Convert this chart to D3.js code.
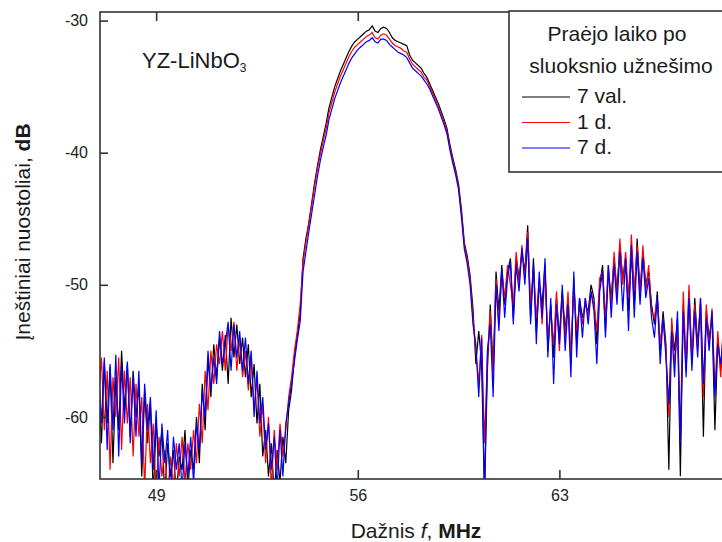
<!DOCTYPE html>
<html>
<head>
<meta charset="utf-8">
<script src="https://cdn.jsdelivr.net/npm/d3@7"></script>
<style>
  body { margin: 0; background: #fff; }
  svg { font-family: "Liberation Sans", Arial, sans-serif; }
</style>
</head>
<body>
<div id="chart"></div>
<script>
// frequency grid, MHz (47.0 ... 68.7, 0.1 MHz step)
let freqStart = 47.0
let freqStep = 0.1

// 7 val. (black)
let series7val = [
  -57.5, -62.0, -55.8, -60.5, -56.2, -63.5, -57.0, -61.0, -55.0, -59.5, // 47
  -56.0, -61.5, -56.5, -60.0, -57.5, -64.5, -58.0, -62.0, -59.0, -66.0, // 48
  -60.5, -63.0, -61.0, -66.0, -62.0, -64.5, -62.5, -66.0, -63.0, -64.0, // 49
  -61.0, -65.5, -62.5, -64.0, -60.0, -63.5, -57.5, -61.0, -55.5, -58.5, // 50
  -54.5, -57.0, -54.0, -56.5, -53.8, -57.5, -52.5, -55.5, -53.0, -56.0, // 51
  -54.0, -57.0, -54.5, -58.5, -56.0, -60.5, -57.5, -63.0, -61.0, -64.5, // 52
  -62.0, -66.0, -62.5, -65.0, -61.5, -63.5, -59.5, -58.0, -55.5, -53.8, // 53
  -52.2, -48.0, -46.5, -45.3, -43.8, -42.3, -41.0, -39.8, -38.8, -37.8, // 54
  -36.6, -35.8, -35.0, -34.4, -33.8, -33.3, -32.8, -32.3, -31.9, -31.6, // 55
  -31.4, -31.2, -31.0, -30.8, -30.7, -30.4, -30.8, -30.9, -30.6, -30.5, // 56
  -30.6, -30.9, -31.3, -31.5, -31.6, -31.7, -31.8, -31.9, -32.6, -33.0, // 57
  -33.2, -33.4, -33.6, -34.0, -34.3, -34.8, -35.3, -35.8, -36.3, -36.9, // 58
  -37.5, -38.2, -39.4, -40.4, -41.3, -42.4, -44.3, -46.8, -47.8, -49.3, // 59
  -51.8, -56.0, -53.5, -56.0, -66.0, -56.5, -51.5, -56.5, -49.0, -52.0, // 60
  -48.5, -51.5, -49.0, -48.0, -52.5, -48.0, -49.5, -47.5, -49.0, -45.5, // 61
  -52.5, -48.0, -53.5, -50.0, -51.5, -48.5, -55.0, -51.5, -55.5, -51.0, // 62
  -54.0, -50.5, -53.5, -51.0, -56.0, -49.5, -54.5, -51.0, -52.5, -51.5, // 63
  -52.0, -50.0, -51.0, -54.5, -50.0, -48.5, -53.5, -49.0, -51.0, -48.0, // 64
  -50.5, -47.0, -49.5, -48.0, -52.0, -47.5, -51.5, -46.5, -50.5, -47.5, // 65
  -50.0, -49.0, -51.5, -53.0, -50.5, -55.0, -52.0, -54.5, -64.0, -53.0, // 66
  -55.0, -52.5, -64.5, -51.5, -56.5, -50.5, -56.0, -51.0, -54.5, -51.5, // 67
  -61.5, -52.0, -54.0, -52.5, -61.0, -54.0, -56.5, -55.0               // 68
]

// 1 d. (red)
let series1d = [
  -58.5, -55.5, -61.0, -56.5, -64.0, -57.0, -60.0, -55.5, -62.5, -56.5, // 47
  -60.5, -57.0, -63.0, -57.5, -61.5, -58.5, -65.5, -59.0, -63.5, -60.5, // 48
  -66.0, -61.5, -64.5, -62.5, -66.0, -63.0, -65.5, -62.0, -64.5, -61.5, // 49
  -65.0, -62.0, -64.0, -61.0, -63.5, -59.0, -62.0, -56.5, -59.5, -55.0, // 50
  -57.5, -54.5, -56.0, -53.5, -56.5, -53.0, -55.0, -52.8, -56.5, -54.0, // 51
  -57.0, -55.0, -58.0, -55.5, -59.5, -57.0, -61.5, -59.0, -63.5, -60.0, // 52
  -65.5, -61.0, -64.0, -60.5, -63.0, -61.0, -58.5, -57.0, -55.0, -53.5, // 53
  -51.5, -48.3, -46.8, -45.4, -44.0, -42.5, -41.2, -40.1, -39.1, -38.2, // 54
  -37.0, -36.2, -35.4, -34.8, -34.2, -33.7, -33.2, -32.7, -32.3, -32.0, // 55
  -31.8, -31.6, -31.4, -31.2, -31.1, -30.9, -31.3, -31.4, -31.1, -31.0, // 56
  -31.1, -31.4, -31.7, -31.9, -32.0, -32.1, -32.3, -32.4, -32.9, -33.3, // 57
  -33.5, -33.7, -33.9, -34.3, -34.5, -35.0, -35.5, -36.0, -36.5, -37.1, // 58
  -37.7, -38.4, -39.6, -40.6, -41.5, -42.6, -44.6, -47.0, -48.1, -49.6, // 59
  -52.5, -55.0, -57.5, -53.8, -62.0, -55.5, -52.0, -57.0, -49.5, -53.0, // 60
  -49.0, -51.0, -48.5, -50.0, -51.5, -47.5, -50.0, -47.0, -49.5, -46.0, // 61
  -51.5, -49.0, -52.5, -49.5, -53.0, -49.0, -54.0, -52.0, -54.5, -50.5, // 62
  -55.0, -51.0, -54.0, -50.5, -55.5, -50.0, -53.5, -51.5, -53.0, -51.0, // 63
  -52.5, -50.5, -51.5, -53.5, -49.5, -49.0, -52.5, -48.5, -51.5, -47.5, // 64
  -51.0, -46.5, -50.0, -47.5, -51.0, -46.2, -50.5, -47.0, -51.0, -47.0, // 65
  -50.5, -48.5, -52.0, -52.5, -51.0, -54.5, -52.5, -55.0, -60.0, -52.5, // 66
  -56.0, -53.0, -61.5, -50.5, -56.0, -50.0, -55.5, -51.5, -55.0, -51.0, // 67
  -58.5, -51.5, -54.5, -51.8, -58.0, -53.5, -57.0, -52.5               // 68
]

// 7 d. (blue)
let series7d = [
  -56.5, -60.5, -55.5, -62.5, -56.0, -61.0, -55.3, -63.0, -56.0, -60.5, // 47
  -55.8, -62.0, -57.0, -61.5, -56.5, -63.5, -57.5, -61.0, -58.5, -64.0, // 48
  -59.5, -65.5, -60.5, -63.5, -61.0, -66.0, -61.5, -64.0, -62.0, -65.5, // 49
  -62.0, -64.5, -61.5, -65.0, -60.5, -62.5, -58.0, -60.0, -55.0, -58.0, // 50
  -55.5, -57.5, -53.5, -56.0, -54.5, -52.8, -56.5, -53.0, -55.5, -53.5, // 51
  -56.5, -54.0, -57.5, -55.0, -60.0, -56.5, -60.5, -58.5, -62.5, -60.5, // 52
  -64.0, -61.5, -65.5, -61.0, -64.5, -60.5, -59.0, -57.5, -55.8, -54.2, // 53
  -52.8, -49.0, -47.5, -46.0, -44.6, -43.2, -41.8, -40.6, -39.6, -38.7, // 54
  -37.5, -36.7, -35.9, -35.3, -34.7, -34.2, -33.7, -33.2, -32.8, -32.5, // 55
  -32.2, -32.0, -31.8, -31.6, -31.5, -31.3, -31.6, -31.7, -31.4, -31.4, // 56
  -31.5, -31.8, -32.0, -32.2, -32.4, -32.5, -32.6, -32.8, -33.2, -33.6, // 57
  -33.8, -34.0, -34.2, -34.5, -34.8, -35.2, -35.7, -36.2, -36.7, -37.3, // 58
  -37.9, -38.6, -39.8, -40.8, -41.7, -42.8, -44.9, -47.3, -48.4, -50.0, // 59
  -53.0, -54.5, -58.5, -54.0, -66.0, -55.0, -53.0, -58.5, -50.0, -53.5, // 60
  -48.8, -52.5, -49.5, -48.2, -53.0, -48.5, -50.5, -47.2, -50.0, -46.5, // 61
  -53.0, -48.5, -54.5, -49.0, -52.5, -48.0, -55.5, -51.0, -57.5, -51.5, // 62
  -54.5, -50.0, -55.0, -51.5, -57.0, -49.0, -55.5, -51.0, -54.0, -51.0, // 63
  -53.0, -50.5, -52.0, -56.0, -50.5, -49.0, -54.0, -48.5, -52.5, -48.5, // 64
  -51.5, -47.5, -52.0, -48.0, -53.5, -47.0, -52.5, -47.5, -51.5, -48.0, // 65
  -51.0, -49.5, -52.5, -54.0, -51.0, -56.0, -52.5, -55.5, -59.0, -53.5, // 66
  -57.0, -52.0, -62.0, -52.0, -57.0, -51.0, -56.5, -52.0, -55.5, -51.0, // 67
  -57.5, -52.5, -55.0, -52.0, -58.5, -54.5, -56.0, -53.5               // 68
]

let seriesNames = ["7 val.", "1 d.", "7 d."]
let seriesColors = ["#000000", "#ff0000", "#0000ff"]
let xTicks = [49, 56, 63]
let yTicks = [-30, -40, -50, -60]

let width = 722, height = 542
let plot = {left: 100, top: 12, right: 725, bottom: 479}

let svg = d3.select("#chart").append("svg")
    .attr("width", width)
    .attr("height", height)

let x = d3.scaleLinear().domain([47.05, 68.75]).range([plot.left, plot.right])
let y = d3.scaleLinear().domain([-64.7, -29.35]).range([plot.bottom, plot.top])

svg.append("clipPath").attr("id", "plotClip")
    .append("rect")
    .attr("x", plot.left).attr("y", plot.top)
    .attr("width", plot.right - plot.left).attr("height", plot.bottom - plot.top)

// lines
let allSeries = [series7val, series1d, series7d]
let line = d3.line()
    .x((d, i) => x(freqStart + i * freqStep))
    .y(d => y(d))

let lines = svg.append("g").attr("clip-path", "url(#plotClip)")
allSeries.forEach(function (s, k) {
    lines.append("path")
        .datum(s)
        .attr("d", line)
        .attr("fill", "none")
        .attr("stroke", seriesColors[k])
        .attr("stroke-width", 1.2)
})

// frame
svg.append("rect")
    .attr("x", plot.left).attr("y", plot.top)
    .attr("width", plot.right - plot.left + 20).attr("height", plot.bottom - plot.top)
    .attr("fill", "none")
    .attr("stroke", "#333")
    .attr("stroke-width", 1.6)

// axes (plain hyphen for the minus, like the original)
let yAxis = d3.axisLeft(y).tickValues(yTicks).tickSize(-8).tickPadding(12)
    .tickFormat(d => String(d))
let xAxis = d3.axisBottom(x).tickValues(xTicks).tickSize(-9).tickPadding(11)
let xTop = d3.axisTop(x).tickValues(xTicks).tickSize(-9).tickFormat("")

function styleAxis(g) {
    g.select(".domain").remove()
    g.selectAll("line").attr("stroke", "#333").attr("stroke-width", 1.6)
    g.selectAll("text")
        .attr("font-family", "Liberation Sans, Arial, sans-serif")
        .attr("font-size", 16)
        .attr("fill", "#222")
}

svg.append("g").attr("transform", `translate(${plot.left},0)`).call(yAxis).call(styleAxis)
svg.append("g").attr("transform", `translate(0,${plot.bottom})`).call(xAxis).call(styleAxis)
svg.append("g").attr("transform", `translate(0,${plot.top})`).call(xTop).call(styleAxis)

// axis titles
let xTitle = svg.append("text")
    .attr("x", 416).attr("y", 538)
    .attr("text-anchor", "middle")
    .attr("font-size", 21)
    .attr("fill", "#1a1a1a")
xTitle.append("tspan").text("Dažnis ")
xTitle.append("tspan").attr("font-style", "italic").text("f")
xTitle.append("tspan").text(", ")
xTitle.append("tspan").attr("font-weight", "bold").text("MHz")

let yTitle = svg.append("text")
    .attr("transform", "translate(30,232) rotate(-90)")
    .attr("text-anchor", "middle")
    .attr("font-size", 21)
    .attr("fill", "#1a1a1a")
yTitle.append("tspan").text("Įneštiniai nuostoliai, ")
yTitle.append("tspan").attr("font-weight", "bold").text("dB")

// material label
let mat = svg.append("text")
    .attr("x", 142).attr("y", 68)
    .attr("font-size", 22)
    .attr("fill", "#1a1a1a")
mat.append("tspan").text("YZ-LiNbO")
mat.append("tspan").attr("font-size", 12).attr("dy", 4).text("3")

// legend
let legend = svg.append("g")
legend.append("rect")
    .attr("x", 509).attr("y", 11)
    .attr("width", 240).attr("height", 161)
    .attr("fill", "#fff")
    .attr("stroke", "#333")
    .attr("stroke-width", 1.6)

legend.append("text")
    .attr("x", 617).attr("y", 41)
    .attr("text-anchor", "middle")
    .attr("font-size", 21)
    .attr("fill", "#1a1a1a")
    .text("Praėjo laiko po")
legend.append("text")
    .attr("x", 621).attr("y", 73)
    .attr("text-anchor", "middle")
    .attr("font-size", 21)
    .attr("fill", "#1a1a1a")
    .text("sluoksnio užnešimo")

seriesNames.forEach(function (name, k) {
    let yy = 97 + k * 25.5
    legend.append("line")
        .attr("x1", 522).attr("x2", 570)
        .attr("y1", yy).attr("y2", yy)
        .attr("stroke", seriesColors[k])
        .attr("stroke-width", 1.2)
    legend.append("text")
        .attr("x", 577).attr("y", yy + 6)
        .attr("font-size", 21)
        .attr("fill", "#1a1a1a")
        .text(name)
})
</script>
</body>
</html>
